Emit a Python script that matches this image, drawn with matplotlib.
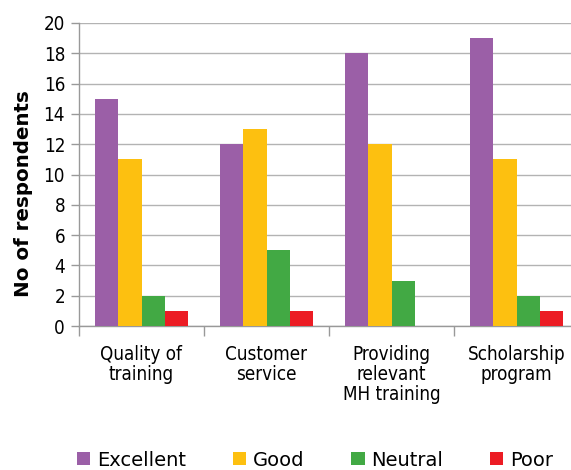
import matplotlib
matplotlib.use("Agg")
import matplotlib.pyplot as plt
import numpy as np
from matplotlib.patches import Patch

categories = ["Quality of\ntraining", "Customer\nservice", "Providing\nrelevant\nMH training", "Scholarship\nprogram"]
series = ["Excellent", "Good", "Neutral", "Poor"]
excellent = [15, 12, 18, 19]
good = [11, 13, 12, 11]
neutral = [2, 5, 3, 2]
poor = [1, 1, 0, 1]
yticks = [0, 2, 4, 6, 8, 10, 12, 14, 16, 18, 20]

colors = ["#9b5fa7", "#fdc010", "#42a944", "#ec1c24"]
values = [excellent, good, neutral, poor]

W, H = 571, 470
fig = plt.figure(figsize=(W / 100, H / 100), dpi=100)
ax = fig.add_axes([79 / W, (H - 326) / H, 500 / W, 303 / H])

cond = dict(family="DejaVu Sans", stretch="condensed", fontsize=13.5)

x = np.arange(len(categories))
bw = 0.185
for i, (vals, c) in enumerate(zip(values, colors)):
    ax.bar(x + (i - 1.5) * bw, vals, bw, color=c, zorder=3, linewidth=0)

ax.set_xlim(-0.5, len(categories) - 0.5)
ax.set_ylim(0, 20)
ax.set_yticks(yticks)
ax.set_yticklabels([str(t) for t in yticks], **cond)
ax.yaxis.grid(True, color="#b3b3b3", linewidth=1.0, zorder=0)
ax.set_axisbelow(True)

ax.set_xticks(x)
ax.set_xticklabels(categories, linespacing=1.05, **cond)
ax.tick_params(axis="x", length=0, pad=14)
ax.set_xticks(np.arange(len(categories) + 1) - 0.5, minor=True)
ax.tick_params(axis="x", which="minor", length=7, color="#999999", width=1)
ax.tick_params(axis="y", length=6, color="#999999", width=1, pad=4)

for s in ["top", "right"]:
    ax.spines[s].set_visible(False)
for s in ["left", "bottom"]:
    ax.spines[s].set_color("#999999")
    ax.spines[s].set_linewidth(1)

fig.text(24 / W, 1 - 193.5 / H, "No of respondents", rotation=90, ha="center", va="center",
         fontsize=14.3, fontweight="bold", family="DejaVu Sans")

handles = [Patch(facecolor=c, edgecolor="none") for c in colors]
fig.legend(handles, series, loc="center", bbox_to_anchor=(0.552, 1 - 460 / H), ncol=4,
           frameon=False, handlelength=0.68, handleheight=0.68,
           handletextpad=0.36, columnspacing=2.4, prop={"family": "DejaVu Sans", "size": 14})

fig.savefig("out.png", dpi=100)
